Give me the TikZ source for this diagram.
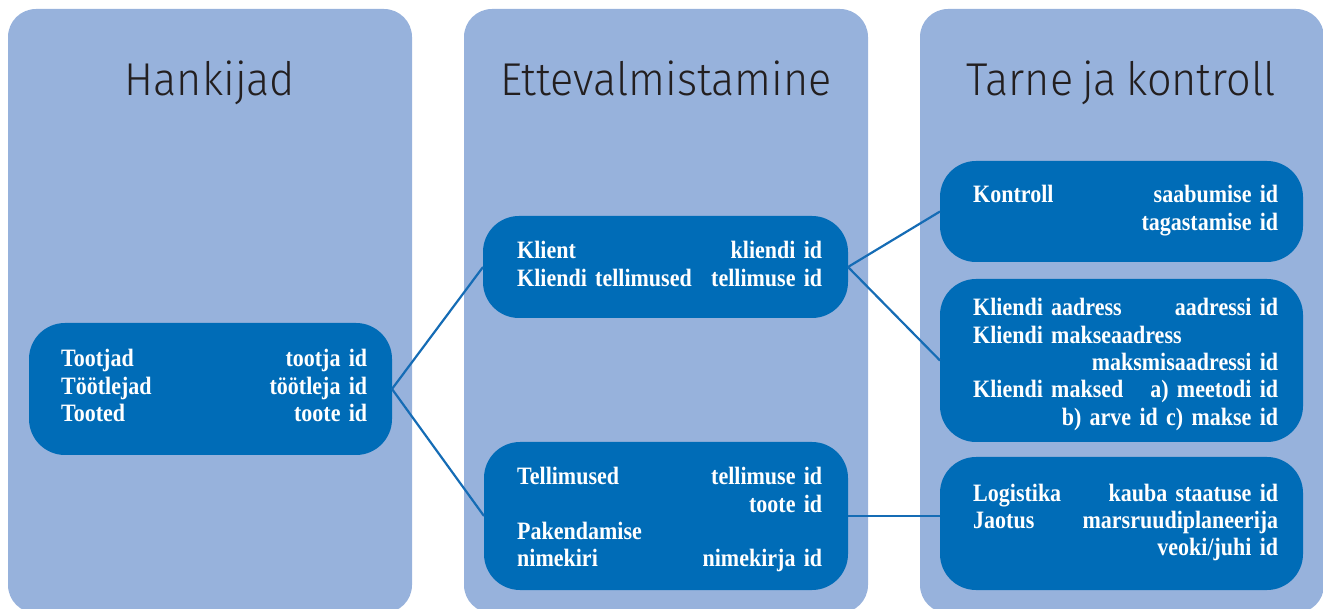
\documentclass[tikz,border=0pt]{standalone}
\usepackage{fontspec}
\setmainfont{Liberation Serif}
\newfontfamily\boxfont[FakeStretch=0.88]{Liberation Serif}
\newfontfamily\titlefont[UprightFont={* Light}, FakeStretch=0.94, WordSpace=0.75]{Fira Sans}
\usetikzlibrary{calc}
\definecolor{colbg}{HTML}{97B2DC}
\definecolor{boxbg}{HTML}{006CB7}
\definecolor{linecol}{HTML}{156CB5}
\definecolor{titlecol}{HTML}{231F20}
\newcommand\rowlr[2]{\leavevmode\hbox to \linewidth{#1\hfil #2}}
\tikzset{
  colbox/.style={fill=colbg, draw=none, rounded corners=28pt, inner sep=0pt, outer sep=0pt},
  ctitle/.style={font=\titlefont\fontsize{46}{50}\selectfont, text=titlecol, inner sep=0pt, anchor=base},
  darkbox/.style={fill=boxbg, draw=none, rounded corners=36pt, inner sep=0pt, outer sep=0pt},
  boxtxt/.style={font=\boxfont\bfseries\fontsize{25}{27.3}\selectfont, text=white, inner sep=0pt, align=left, anchor=base west, text width=305pt},
  conn/.style={draw=linecol, line width=2.2pt},
}
\begin{document}
\begin{tikzpicture}[x=1pt,y=-1pt]
\useasboundingbox (0,0) rectangle (1323,609);
% columns
\node[colbox, minimum width=404pt, minimum height=604pt] (c1) at (210,311) {};
\node[colbox, minimum width=404pt, minimum height=604pt] (c2) at (666,311) {};
\node[colbox, minimum width=404pt, minimum height=604pt] (c3) at (1122,311) {};
\node[ctitle] (h1) at (210,96) {Hankijad};
\node[ctitle] (h2) at (666,96) {Ettevalmistamine};
\node[ctitle] (h3) at (1121,96) {Tarne ja kontroll};
% dark boxes
\node[darkbox, minimum width=363pt, minimum height=132pt] (b1) at (210.5,389) {};
\node[darkbox, minimum width=365pt, minimum height=102pt] (b2) at (665.5,267) {};
\node[darkbox, minimum width=364pt, minimum height=148pt] (b3) at (666,516) {};
\node[darkbox, minimum width=363pt, minimum height=101pt] (b4) at (1121.5,211.5) {};
\node[darkbox, minimum width=363pt, minimum height=163pt] (b5) at (1121.5,360.5) {};
\node[darkbox, minimum width=363pt, minimum height=133pt] (b6) at (1121.5,523.5) {};
% texts
\node[boxtxt, text width=306pt] (t1) at (61,367) {\rowlr{Tootjad}{tootja id}\\\rowlr{Töötlejad}{töötleja id}\\\rowlr{Tooted}{toote id}};
\node[boxtxt] (t2) at (517,259) {\rowlr{Klient}{kliendi id}\\\rowlr{Kliendi tellimused}{tellimuse id}};
\node[boxtxt] (t3) at (517,485) {\rowlr{Tellimused}{tellimuse id}\\\rowlr{}{toote id}\\\rowlr{Pakendamise}{}\\\rowlr{nimekiri}{nimekirja id}};
\node[boxtxt] (t4) at (973,203) {\rowlr{Kontroll}{saabumise id}\\\rowlr{}{tagastamise id}};
\node[boxtxt] (t5) at (973,316) {\rowlr{Kliendi aadress}{aadressi id}\\\rowlr{Kliendi makseaadress}{}\\\rowlr{}{maksmisaadressi id}\\\rowlr{Kliendi maksed}{a) meetodi id}\\\rowlr{}{b) arve id c) makse id}};
\node[boxtxt] (t6) at (973,501) {\rowlr{Logistika}{kauba staatuse id}\\\rowlr{Jaotus}{marsruudiplaneerija}\\\rowlr{}{veoki/juhi id}};
% connectors
\draw[conn] (b1.east) -- (b2.west);
\draw[conn] (b1.east) -- (b3.west);
\draw[conn] (b2.east) -- (b4.west);
\draw[conn] (b2.east) -- (b5.west);
\draw[conn] (b3.east) -- (b3.east -| b6.west);
\end{tikzpicture}
\end{document}
